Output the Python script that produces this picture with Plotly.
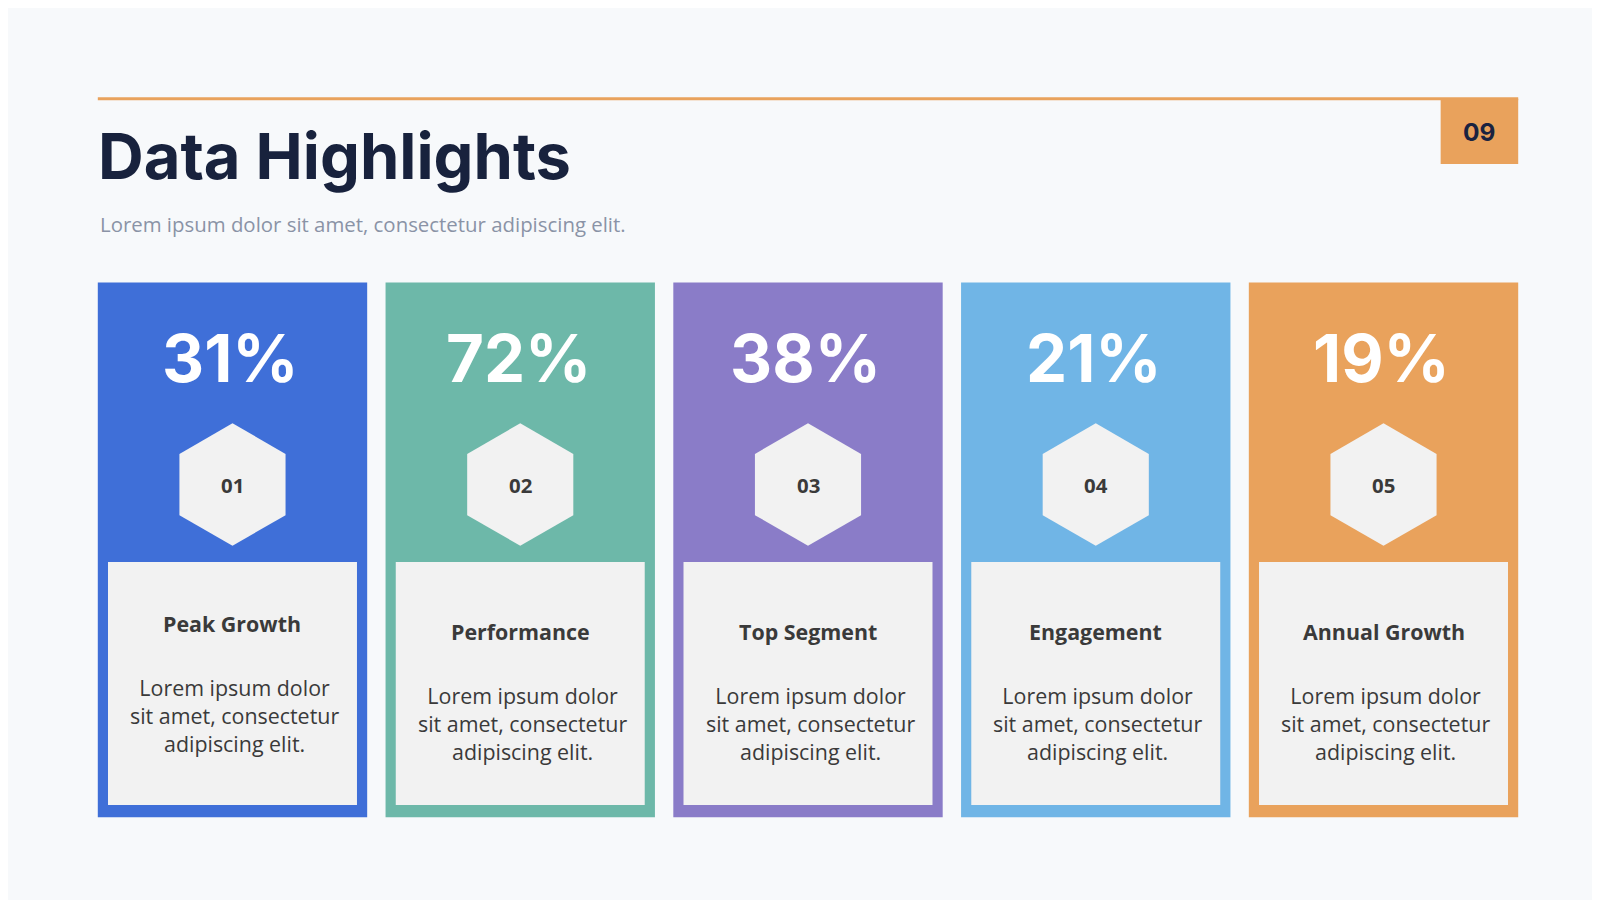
import plotly.graph_objects as go
import math

values = [31, 72, 38, 21, 19]
numbers = ["01", "02", "03", "04", "05"]
labels = ["Peak Growth", "Performance", "Top Segment", "Engagement", "Annual Growth"]
colors = ["#3F6FD8", "#6DB8A9", "#8A7CC8", "#70B5E6", "#E9A25C"]
body = "Lorem ipsum dolor<br>sit amet, consectetur<br>adipiscing elit."

W, H = 1568, 882
fig = go.Figure()
shapes, ann = [], []
s = 1600 / 1568

shapes.append(dict(type="line", x0=88, x1=1480, y0=89, y1=89, line=dict(color="#E9A25C", width=3)))
shapes.append(dict(type="rect", x0=1404, x1=1480, y0=89, y1=153, fillcolor="#E9A25C", line=dict(width=0)))
ann.append(dict(x=1442, y=122, text="<b>09</b>", font=dict(size=24*s, color="#1A2340", family="Inter")))
ann.append(dict(x=86, y=145, xanchor="left", text="<b>Data Highlights</b>",
                font=dict(size=62*s, color="#18223D", family="Inter")))
ann.append(dict(x=88, y=212, xanchor="left", text="Lorem ipsum dolor sit amet, consectetur adipiscing elit.",
                font=dict(size=20*s, color="#8A93A6", family="Open Sans")))

for i, (v, n, lab, c) in enumerate(zip(values, numbers, labels, colors)):
    x0 = 88 + i * 282
    cx = x0 + 132
    shapes.append(dict(type="rect", x0=x0, x1=x0 + 264, y0=269, y1=793, fillcolor=c, line=dict(width=0)))
    r = 60
    pts = [(cx + r * math.sin(math.radians(a)), 467 - r * math.cos(math.radians(a))) for a in range(0, 360, 60)]
    path = "M " + " L ".join(f"{px:.1f},{py:.1f}" for px, py in pts) + " Z"
    shapes.append(dict(type="path", path=path, fillcolor="#F2F2F2", line=dict(width=0)))
    shapes.append(dict(type="rect", x0=x0 + 10, x1=x0 + 254, y0=543, y1=781, fillcolor="#F2F2F2", line=dict(width=0)))
    ann.append(dict(x=cx - 2, y=343, text=f"<b>{v}%</b>", font=dict(size=64*s, color="white", family="Inter")))
    ann.append(dict(x=cx, y=467, text=f"<b>{n}</b>", font=dict(size=20*s, color="#3A3A3A", family="Open Sans")))
    off = 0 if i == 0 else 8
    ann.append(dict(x=cx, y=603 + off, text=f"<b>{lab}</b>", font=dict(size=21*s, color="#3A3A3A", family="Open Sans")))
    ann.append(dict(x=cx + 2, y=693 + off, text=body, font=dict(size=21*s, color="#3A3A3A", family="Open Sans")))

for a in ann:
    a.update(xref="x", yref="y", showarrow=False)
    a.setdefault("xanchor", "center")
    a["yanchor"] = "middle"

fig.update_layout(width=1600, height=900, margin=dict(l=0, r=0, t=0, b=0),
                  paper_bgcolor="#F7F9FB", plot_bgcolor="#F7F9FB",
                  shapes=shapes, annotations=ann, showlegend=False,
                  xaxis=dict(range=[0, W], visible=False, fixedrange=True),
                  yaxis=dict(range=[H, 0], visible=False, fixedrange=True))
fig.write_html("out.html")
